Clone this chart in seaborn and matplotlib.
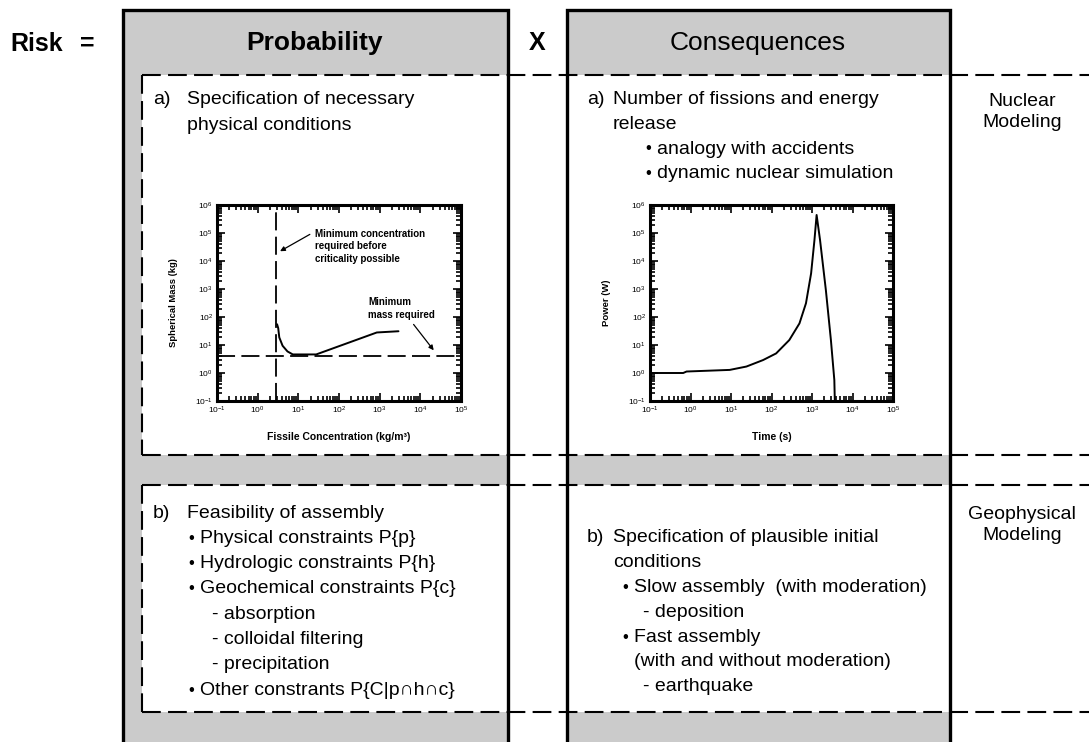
import matplotlib
import numpy as np
import seaborn as sns
from matplotlib.patches import Rectangle
from matplotlib.ticker import LogLocator, NullFormatter

matplotlib.use("Agg")
import matplotlib.pyplot as plt

sns.set_style("ticks")
plt.rcParams["font.family"] = ["Liberation Sans", "DejaVu Sans"]
plt.rcParams["mathtext.default"] = "bf"
for key in ["text.color", "axes.labelcolor", "xtick.color", "ytick.color", "axes.edgecolor"]:
    plt.rcParams[key] = "black"

W, H = 1089, 742
GRAY = "#cbcbcb"

# inset a) probability: minimum spherical mass vs fissile concentration
conc = [3.0, 3.2, 3.4, 4.1, 5.4, 7.3, 27.5, 850, 2900]
mass = [55, 40, 18.7, 9.4, 5.9, 4.6, 4.6, 28, 31]
conc_limit = 2.8
mass_limit = 4.2

# inset a) consequences: power excursion
time_s = [0.1, 0.66, 0.8, 9.3, 24, 62, 130, 275, 490, 710, 950, 1150, 1300,
          1580, 2200, 2930, 3560, 3700]
power_w = [1.0, 1.0, 1.13, 1.29, 1.7, 2.9, 5, 15, 59, 310, 3600, 56000, 440000,
           56000, 910, 15, 0.56, 0.05]

x_decades = list(range(-1, 6))
y_decades = list(range(-1, 7))

prob_a_items = [(0, "Specification of necessary"), (0, "physical conditions")]
cons_a_items = [
    (0, "Number of fissions and energy"),
    (0, "release"),
    (1, "analogy with accidents"),
    (1, "dynamic nuclear simulation"),
]
prob_b_items = [
    (0, "Feasibility of assembly"),
    (1, "Physical constraints P{p}"),
    (1, "Hydrologic constraints P{h}"),
    (1, "Geochemical constraints P{c}"),
    (2, "absorption"),
    (2, "colloidal filtering"),
    (2, "precipitation"),
    (1, "Other constrants P{C|p\u2229h\u2229c}"),
]
cons_b_items = [
    (0, "Specification of plausible initial"),
    (0, "conditions"),
    (1, "Slow assembly  (with moderation)"),
    (2, "deposition"),
    (1, "Fast assembly"),
    (3, "(with and without moderation)"),
    (2, "earthquake"),
]
side_labels = ["Nuclear\nModeling", "Geophysical\nModeling"]

BODY = 14


def draw_block(ax, label, items, x_label, x_text, x_bullet, x_dash, y0, step):
    ax.text(x_label, y0, label, fontsize=BODY, va="center")
    for i, (level, line) in enumerate(items):
        y = y0 + i * step
        if level == 0:
            ax.text(x_text, y, line, fontsize=BODY, va="center")
        elif level == 1:
            ax.text(x_bullet, y, "\u2022", fontsize=12, va="center")
            ax.text(x_bullet + 12, y, line, fontsize=BODY, va="center")
        elif level == 2:
            ax.text(x_dash, y, "- " + line, fontsize=BODY, va="center")
        else:
            ax.text(x_bullet + 12, y, line, fontsize=BODY, va="center")


def style_inset(axi, xlabel, ylabel):
    axi.set_xscale("log")
    axi.set_yscale("log")
    axi.set_xlim(1e-1, 1e5)
    axi.set_ylim(1e-1, 1e6)
    axi.set_xticks([10.0 ** k for k in x_decades])
    axi.set_yticks([10.0 ** k for k in y_decades])
    for a in (axi.xaxis, axi.yaxis):
        a.set_minor_locator(LogLocator(base=10, subs=np.arange(2, 10), numticks=20))
        a.set_minor_formatter(NullFormatter())
    axi.tick_params(which="both", direction="in", top=True, right=True,
                    width=1.2, labelsize=6, pad=3)
    axi.tick_params(which="major", length=6)
    axi.tick_params(which="minor", length=3.5)
    for s in axi.spines.values():
        s.set_linewidth(2.2)
    axi.set_xlabel(xlabel, fontsize=7.5, fontweight="bold")
    axi.set_ylabel(ylabel, fontsize=6.8, fontweight="bold")
    axi.xaxis.set_label_coords(0.5, -0.16)
    axi.yaxis.set_label_coords(-0.16, 0.5)


fig = plt.figure(figsize=(W / 100, H / 100), dpi=100)
ax = fig.add_axes([0, 0, 1, 1])
ax.set_xlim(0, W)
ax.set_ylim(H, 0)
ax.axis("off")

top, head, mid0, mid1, low = 10, 75, 455, 485, 712
inner_left = 142
columns = [(123, 508, inner_left), (567, 950, 567)]
for x0, x1, xw in columns:
    ax.add_patch(Rectangle((x0, top), x1 - x0, H - top + 5, fc=GRAY, ec="none", zorder=1))
    ax.add_patch(Rectangle((xw, head), x1 - xw, mid0 - head, fc="white", ec="none", zorder=2))
    ax.add_patch(Rectangle((xw, mid1), x1 - xw, low - mid1, fc="white", ec="none", zorder=2))

dash = (0, (9, 3.5))
for y in [head, mid0, mid1, low]:
    ax.plot([inner_left, W], [y, y], color="black", lw=1.5, ls=dash, zorder=3)
ax.plot([inner_left, inner_left], [head, mid0], color="black", lw=1.5, ls=dash, zorder=3)
ax.plot([inner_left, inner_left], [mid1, low], color="black", lw=1.5, ls=dash, zorder=3)

for x0, x1, _ in columns:
    ax.plot([x0, x0, x1, x1], [H + 5, top, top, H + 5], color="black", lw=2.4,
            solid_joinstyle="miter", zorder=4, clip_on=False)

ax.text(10, 44, "Risk", fontsize=18, fontweight="bold", va="center")
ax.text(80, 44, "=", fontsize=18, fontweight="bold", va="center")
ax.text(315, 43, "Probability", fontsize=19, fontweight="bold", ha="center", va="center", zorder=5)
ax.text(537, 43, "X", fontsize=18, fontweight="bold", ha="center", va="center")
ax.text(758, 43, "Consequences", fontsize=19, ha="center", va="center", zorder=5)

draw_block(ax, "a)", prob_a_items, 153, 187, 200, 212, 100, 25)
draw_block(ax, "a)", cons_a_items, 587, 613, 645, 655, 100, 24.5)
draw_block(ax, "b)", prob_b_items, 153, 187, 188, 212, 513, 25.3)
draw_block(ax, "b)", cons_b_items, 587, 613, 622, 643, 538, 24.8)
for label, y in zip(side_labels, [112, 525]):
    ax.text(1022, y, label, fontsize=BODY, ha="center", va="center", linespacing=1.3)

# inset: probability side
ax1 = fig.add_axes([217 / W, 1 - 401 / H, 244 / W, 196 / H])
sns.lineplot(x=conc, y=mass, ax=ax1, color="black", lw=1.4, estimator=None, sort=False)
style_inset(ax1, "Fissile Concentration (kg/m\u00b3)", "Spherical Mass (kg)")
ax1.axvline(conc_limit, color="black", lw=1.3, ls=(0, (10, 3.5)))
ax1.axhline(mass_limit, color="black", lw=1.3, ls=(0, (10, 3.5)))
ax1.text(25, 10 ** 4.52, "Minimum concentration\nrequired before\ncriticality possible",
         fontsize=7, fontweight="bold", va="center", linespacing=1.35)
ax1.annotate("", xy=(3.1, 10 ** 4.3), xytext=(22, 10 ** 5.0),
             arrowprops=dict(arrowstyle="-|>", color="black", lw=0.9, mutation_scale=7))
ax1.text(525, 10 ** 2.29, "Minimum\nmass required", fontsize=7, fontweight="bold",
         va="center", linespacing=1.35)
ax1.annotate("", xy=(23500, 5.4), xytext=(6200, 65),
             arrowprops=dict(arrowstyle="-|>", color="black", lw=0.9, mutation_scale=7))

# inset: consequences side
ax2 = fig.add_axes([650 / W, 1 - 401 / H, 243 / W, 196 / H])
sns.lineplot(x=time_s, y=power_w, ax=ax2, color="black", lw=1.4, estimator=None, sort=False)
style_inset(ax2, "Time (s)", "Power (W)")

fig.savefig("out.png", dpi=100)
